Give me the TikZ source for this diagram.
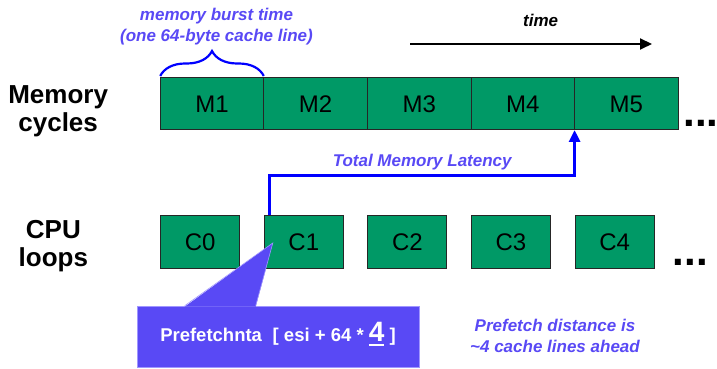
\documentclass[tikz,border=0pt]{standalone}
\usepackage{fontspec}
\setmainfont{Liberation Sans}
\usepackage{tikz}
\usepackage{xcolor}
\usetikzlibrary{calc,positioning,arrows.meta,decorations.pathreplacing}
\definecolor{cellgreen}{RGB}{0,153,102}
\definecolor{notecol}{RGB}{89,73,245}
\definecolor{wireblue}{RGB}{0,0,255}
\definecolor{calloutedge}{RGB}{160,150,255}
\newcommand\thickul[1]{\setbox0\hbox{#1}\rlap{\rule[-4pt]{\wd0}{2pt}}\box0\relax}
\tikzset{
>={Triangle[length=12pt,width=11pt]},
  membox/.style={
    rectangle,
    fill=cellgreen,
    draw=black!85, line width=1pt,
    minimum width=103.6pt,
    minimum height=52pt,
    inner sep=0pt, outer sep=0pt,
    font=\fontsize{24}{24}\selectfont},
  cpubox/.style={
    rectangle,
    fill=cellgreen,
    draw=black!85, line width=1pt,
    minimum width=79pt,
    minimum height=53pt,
    inner sep=0pt,
    font=\fontsize{24}{24}\selectfont},
  rowlabel/.style={align=center, inner sep=0pt, font=\bfseries\fontsize{26}{28}\selectfont},
  note/.style={align=center, inner sep=0pt, text=notecol, font=\bfseries\itshape\fontsize{17}{20.5}\selectfont},
  moredots/.style={inner sep=0pt, font=\bfseries\fontsize{42}{42}\selectfont},
  latency/.style={draw=wireblue, line width=3pt, ->},
  timeline/.style={draw=black, line width=2pt, ->},
  decoration={brace, amplitude=25pt},
  burstbrace/.style={decorate, draw=wireblue, line width=2.2pt},
}
\begin{document}
\begin{tikzpicture}[x=1pt, y=1pt]
    \useasboundingbox (0,0) rectangle (717,369);

    % memory row
    \node[membox] (m1) at (212,265) {M1};
    \node[membox, right=0pt of m1] (m2) {M2};
    \node[membox, right=0pt of m2] (m3) {M3};
    \node[membox, right=0pt of m3] (m4) {M4};
    \node[membox, right=0pt of m4] (m5) {M5};
    \node[moredots, right=5pt of m5.south east, anchor=south west, yshift=3pt] (mdots) {...};

    % cpu row, lined up with the memory cells
    \node[cpubox, below=85pt of m1.south west, anchor=north west] (c0) {C0};
    \node[cpubox, below=85pt of m2.south west, anchor=north west] (c1) {C1};
    \node[cpubox, below=85pt of m3.south west, anchor=north west] (c2) {C2};
    \node[cpubox, below=85pt of m4.south west, anchor=north west] (c3) {C3};
    \node[cpubox, below=85pt of m5.south west, anchor=north west] (c4) {C4};
    \node[moredots, right=18pt of c4.south east, anchor=south west, yshift=3pt] (cdots) {...};

    \node[rowlabel, left=52pt of m1, yshift=-7pt] (memlbl) {Memory\\cycles};
    \node[rowlabel, left=72pt of c0, yshift=-4.5pt] (cpulbl) {CPU\\loops};

    % burst brace
    \draw[burstbrace] ([yshift=2pt]m1.north west) -- ([yshift=2pt]m1.north east);
    \node[note, above=33pt of m1.north, xshift=4.5pt] (burst) {memory burst time\\(one 64-byte cache line)};

    % time axis
    \coordinate (t0) at (410,325);
    \coordinate (t1) at (652,325);
    \path[timeline] (t0) -- node[pos=0.54, above=16pt, inner sep=0pt, font=\bfseries\itshape\fontsize{17}{17}\selectfont] (timelbl) {time} (t1);

    % latency path
    \path[latency] ([xshift=6pt]c1.north west) -- ++(0,39pt) -| node[pos=0.25, above=4.4pt, note] (latlbl) {Total Memory Latency} (m5.south west);

    % callout
    \node[rectangle, fill=notecol, draw=calloutedge, line width=0.6pt, minimum width=282pt, minimum height=61pt, text=white,
          text height=15pt, text depth=4pt, font=\bfseries\fontsize{18.5}{20}\selectfont] (pref) at (278,32.5)
          {Prefetchnta\hspace{0.3em} [ esi + 64 * \thickul{\fontsize{28}{28}\selectfont 4} ]};
    \coordinate (tip) at ([xshift=9pt, yshift=-28pt]c1.north west);
    \fill[notecol] ([xshift=48pt, yshift=-1pt]pref.north west) -- (tip) -- ([xshift=119pt, yshift=-1pt]pref.north west) -- cycle;
    \draw[calloutedge, line width=0.6pt] ([xshift=48pt]pref.north west) -- (tip) -- ([xshift=119pt]pref.north west);

    \node[note] (distnote) at (555,33) {Prefetch distance is\\\textasciitilde4 cache lines ahead};
\end{tikzpicture}
\end{document}
